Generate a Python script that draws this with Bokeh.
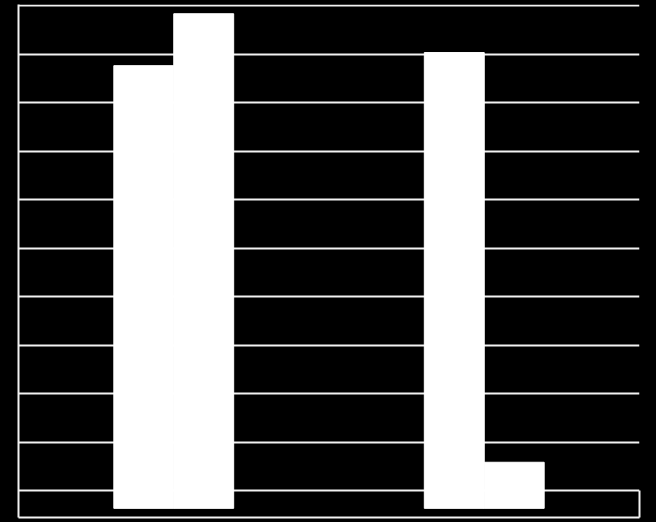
from bokeh.plotting import figure
from bokeh.models import (FactorRange, Range1d, LinearAxis, FixedTicker, ColumnDataSource,
                          GlobalInlineStyleSheet)
from bokeh.transform import dodge
from bokeh.embed import file_html
from bokeh.resources import INLINE

categories = ["Category 1", "Category 2"]
series_1 = [8.76, 9.03]
series_2 = [9.83, 0.59]
gridline_values = list(range(0, 11))
base_value = -0.36
y_min, y_max = -0.548, 10.02

src = ColumnDataSource(data=dict(cat=categories, s1=series_1, s2=series_2,
                                 base=[base_value] * len(categories)))

p = figure(width=656, height=522, output_backend="svg", toolbar_location=None,
           x_range=FactorRange(*categories, range_padding=0),
           y_range=Range1d(y_min, y_max),
           x_axis_location=None, y_axis_location=None,
           background_fill_color="black", border_fill_color="black",
           min_border_left=18, min_border_right=17, min_border_top=4, min_border_bottom=5)
p.stylesheets = [GlobalInlineStyleSheet(css="html, body { background: #000000; }")]
p.outline_line_color = None
p.xgrid.grid_line_color = None
p.ygrid.grid_line_color = "#f2f2f2"
p.ygrid.grid_line_width = 2
p.ygrid.ticker = gridline_values

w = 0.193
p.vbar(x=dodge("cat", -w / 2, range=p.x_range), top="s1", bottom="base", width=w,
       source=src, fill_color="white", line_color="white", line_width=1)
p.vbar(x=dodge("cat", w / 2, range=p.x_range), top="s2", bottom="base", width=w,
       source=src, fill_color="white", line_color="white", line_width=1)


def frame_axis(**kw):
    ax = LinearAxis(ticker=FixedTicker(ticks=[]), axis_line_color="#f2f2f2", axis_line_width=2,
                    major_tick_out=0, major_tick_in=0, minor_tick_out=0, minor_tick_in=0,
                    major_label_text_font_size="0px", major_label_standoff=0, **kw)
    return ax


p.add_layout(frame_axis(), "left")
p.add_layout(frame_axis(), "below")
p.add_layout(frame_axis(bounds=(y_min, 0)), "right")

open("out.html", "w").write(file_html(p, INLINE))
